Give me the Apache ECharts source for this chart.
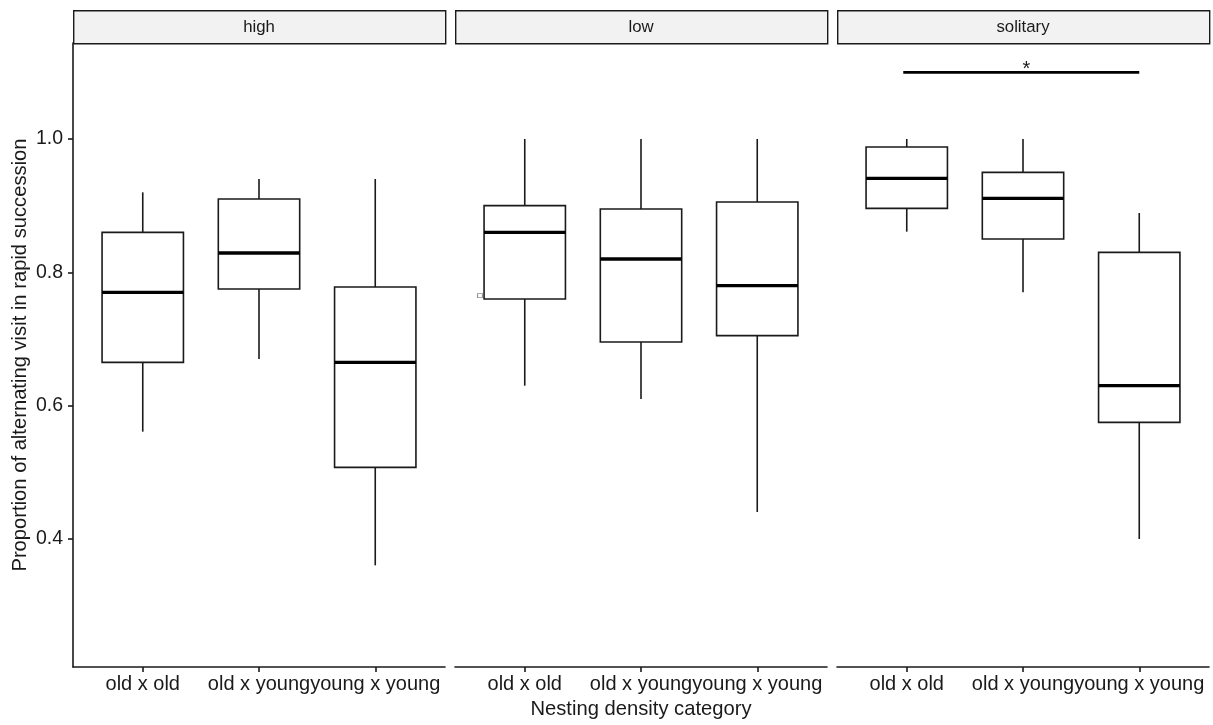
<!DOCTYPE html>
<html>
<head>
<meta charset="utf-8">
<script src="https://cdn.jsdelivr.net/npm/echarts@6/dist/echarts.min.js"></script>
<style>
  html, body { margin: 0; padding: 0; background: #ffffff; }
  #chart { width: 1213px; height: 725px; }
</style>
</head>
<body>
<div id="chart"></div>
<script>
// Facet panels and the pair categories inside each panel
const panels = ['high', 'low', 'solitary'];
const categories = ['old x old', 'old x young', 'young x young'];

// Box statistics per category: [lower whisker, Q1, median, Q3, upper whisker]
const highStats = [
  [0.561, 0.665, 0.770, 0.860, 0.920],
  [0.670, 0.775, 0.829, 0.910, 0.940],
  [0.3605, 0.5075, 0.665, 0.778, 0.940]
];
const lowStats = [
  [0.630, 0.760, 0.860, 0.900, 1.000],
  [0.610, 0.6955, 0.820, 0.895, 1.000],
  [0.4405, 0.705, 0.780, 0.9055, 1.000]
];
const solitaryStats = [
  [0.861, 0.896, 0.941, 0.988, 1.000],
  [0.770, 0.850, 0.911, 0.950, 1.000],
  [0.400, 0.575, 0.630, 0.830, 0.889]
];

// Small stray square marker in the "low" panel: [x position, value]
const lowStrayPoint = [[0.615, 0.765]];

// Significance bracket in the "solitary" panel
const signifPanel = 2;
const signifSpan = [0.97, 3.0];
const signifY = 1.1;
const signifLabelX = 2.03;
const signifLabel = '*';

// Axis tick values
const yTicks = [0.4, 0.6, 0.8, 1.0];
const xTicks = [1, 2, 3];

const statsByPanel = [highStats, lowStats, solitaryStats];

const FONT = '"Liberation Sans", Arial, Helvetica, sans-serif';
const INK = '#1a1a1a';
const BOX_WIDTH = 0.7;
const Y_MIN = 0.208, Y_MAX = 1.144;

const panelLeft = [73, 455, 837];
const panelWidth = 372;
const panelTop = 43;
const panelHeight = 624;
const stripTop = 10;

function renderBox(params, api) {
  const x = api.value(0);
  const lo = api.coord([x, api.value(1)]);
  const q1 = api.coord([x, api.value(2)]);
  const med = api.coord([x, api.value(3)]);
  const q3 = api.coord([x, api.value(4)]);
  const hi = api.coord([x, api.value(5)]);
  const half = api.size([BOX_WIDTH, 0])[0] / 2;
  const cx = lo[0];
  const thin = { stroke: INK, lineWidth: 1.6, fill: null };
  return {
    type: 'group',
    children: [
      { type: 'line', shape: { x1: cx, y1: hi[1], x2: cx, y2: q3[1] }, style: thin },
      { type: 'line', shape: { x1: cx, y1: q1[1], x2: cx, y2: lo[1] }, style: thin },
      { type: 'rect', shape: { x: cx - half, y: q3[1], width: 2 * half, height: q1[1] - q3[1] },
        style: { stroke: INK, lineWidth: 1.6, fill: '#ffffff' } },
      { type: 'line', shape: { x1: cx - half, y1: med[1], x2: cx + half, y2: med[1] },
        style: { stroke: '#000000', lineWidth: 3.3 } }
    ]
  };
}

function renderSignif(params, api) {
  const a = api.coord([api.value(0), api.value(2)]);
  const b = api.coord([api.value(1), api.value(2)]);
  const t = api.coord([api.value(3), api.value(2)]);
  return {
    type: 'group',
    children: [
      { type: 'line', shape: { x1: a[0], y1: a[1], x2: b[0], y2: b[1] },
        style: { stroke: '#000000', lineWidth: 2.7 } },
      { type: 'text', x: t[0], y: t[1] - 3,
        style: { text: signifLabel, fontSize: 20, fontFamily: FONT, fill: INK,
                 align: 'center', verticalAlign: 'middle' } }
    ]
  };
}

const grids = [], xAxes = [], yAxes = [], series = [], graphics = [];

panels.forEach((name, i) => {
  grids.push({ left: panelLeft[i], top: panelTop, width: panelWidth, height: panelHeight, containLabel: false });

  xAxes.push({
    gridIndex: i, type: 'value', min: 0.4, max: 3.6,
    axisLine: { show: true, onZero: false, lineStyle: { color: INK, width: 1.6 } },
    axisTick: { show: true, customValues: xTicks, length: 5, lineStyle: { color: INK, width: 1.6 } },
    axisLabel: {
      show: true, customValues: xTicks, margin: 7,
      formatter: v => categories[Math.round(v) - 1] || '',
      fontSize: 20, fontFamily: FONT, color: INK
    },
    splitLine: { show: false }
  });

  yAxes.push({
    gridIndex: i, type: 'value', min: Y_MIN, max: Y_MAX,
    axisLine: { show: i === 0, onZero: false, lineStyle: { color: INK, width: 1.6 } },
    axisTick: { show: i === 0, customValues: yTicks, length: 5, lineStyle: { color: INK, width: 1.6 } },
    axisLabel: {
      show: i === 0, customValues: yTicks, margin: 10,
      formatter: v => v.toFixed(1),
      fontSize: 19.5, fontFamily: FONT, color: INK
    },
    splitLine: { show: false }
  });

  series.push({
    type: 'custom', xAxisIndex: i, yAxisIndex: i,
    renderItem: renderBox,
    encode: { x: 0, y: [1, 2, 3, 4, 5] },
    data: statsByPanel[i].map((s, k) => [xTicks[k]].concat(s))
  });

  // Facet strip
  graphics.push({
    type: 'rect', left: panelLeft[i], top: stripTop,
    shape: { width: panelWidth, height: panelTop - stripTop },
    style: { fill: '#F2F2F2', stroke: INK, lineWidth: 1.4 }
  });
  graphics.push({
    type: 'text', x: panelLeft[i] + panelWidth / 2, y: (stripTop + panelTop) / 2 + 0.5,
    style: { text: name, fontSize: 16.8, fontFamily: FONT, fill: INK, align: 'center', verticalAlign: 'middle' }
  });
});

series.push({
  type: 'scatter', xAxisIndex: 1, yAxisIndex: 1,
  symbol: 'rect', symbolSize: [5, 4],
  itemStyle: { color: '#ffffff', borderColor: '#777777', borderWidth: 1 },
  data: lowStrayPoint, silent: true
});

series.push({
  type: 'custom', xAxisIndex: signifPanel, yAxisIndex: signifPanel,
  renderItem: renderSignif,
  encode: { x: [0, 1, 3], y: 2 },
  data: [[signifSpan[0], signifSpan[1], signifY, signifLabelX]]
});

// Axis titles
graphics.push({
  type: 'text', x: 641, y: 709,
  style: { text: 'Nesting density category', fontSize: 20.2, fontFamily: FONT, fill: INK, align: 'center', verticalAlign: 'middle' }
});
graphics.push({
  type: 'text', x: 20, y: 355, rotation: Math.PI / 2,
  style: { text: 'Proportion of alternating visit in rapid succession', fontSize: 20.2, fontFamily: FONT, fill: INK, align: 'center', verticalAlign: 'middle' }
});

const chart = echarts.init(document.getElementById('chart'), null, { renderer: 'canvas' });
chart.setOption({
  animation: false,
  backgroundColor: '#ffffff',
  grid: grids,
  xAxis: xAxes,
  yAxis: yAxes,
  series: series,
  graphic: graphics
});
</script>
</body>
</html>
